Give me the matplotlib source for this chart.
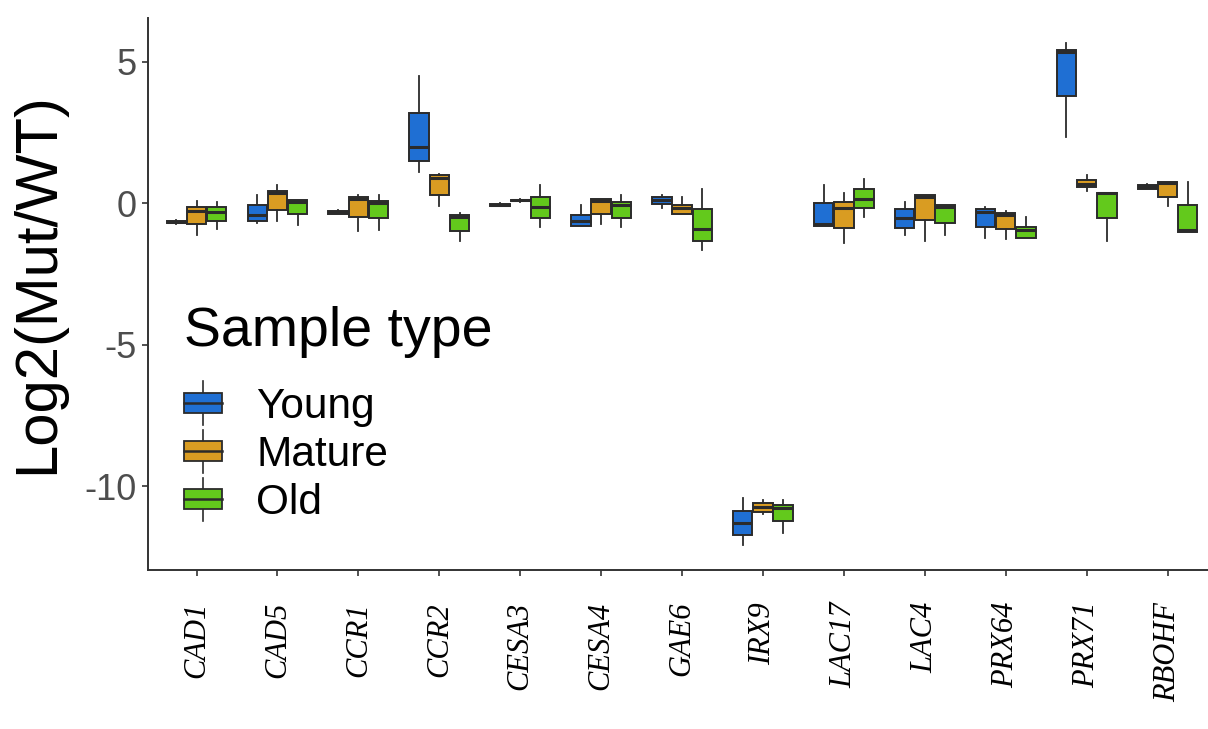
import numpy as np
import matplotlib
matplotlib.use("Agg")
import matplotlib.pyplot as plt
from matplotlib.legend_handler import HandlerBase
from matplotlib.patches import Rectangle, Patch
from matplotlib.lines import Line2D

genes = ["CAD1", "CAD5", "CCR1", "CCR2", "CESA3", "CESA4", "GAE6",
         "IRX9", "LAC17", "LAC4", "PRX64", "PRX71", "RBOHF"]
sample_types = ["Young", "Mature", "Old"]

# box stats: whisker low, q1, median, q3, whisker high
young_lo  = [-0.72, -0.68, -0.38, 1.10, -0.10, -0.80, -0.17, -12.07, -0.80, -1.12, -1.22, 2.34, 0.49]
young_q1  = [-0.70, -0.63, -0.36, 1.50, -0.08, -0.80, -0.03, -11.72, -0.80, -0.87, -0.84, 3.78, 0.52]
young_med = [-0.66, -0.42, -0.30, 1.99, -0.05, -0.63, 0.10, -11.30, -0.73, -0.52, -0.31, 5.35, 0.58]
young_q3  = [-0.62, -0.07, -0.26, 3.19, -0.02, -0.42, 0.21, -10.87, 0.02, -0.21, -0.21, 5.42, 0.65]
young_hi  = [-0.58, 0.28, -0.22, 4.50, 0.02, -0.07, 0.28, -10.41, 0.66, 0.03, -0.14, 5.66, 0.70]

mature_lo  = [-1.12, -0.63, -0.98, -0.10, 0.05, -0.73, -0.38, -10.98, -1.40, -1.33, -1.26, 0.45, -0.10]
mature_q1  = [-0.73, -0.24, -0.49, 0.31, 0.07, -0.38, -0.38, -10.91, -0.87, -0.59, -0.91, 0.56, 0.24]
mature_med = [-0.28, 0.35, 0.17, 0.91, 0.10, 0.07, -0.17, -10.73, -0.17, 0.21, -0.42, 0.70, 0.73]
mature_q3  = [-0.14, 0.42, 0.21, 1.01, 0.12, 0.14, -0.07, -10.59, 0.03, 0.28, -0.35, 0.84, 0.77]
mature_hi  = [0.07, 0.66, 0.28, 1.05, 0.15, 0.14, 0.21, -10.48, 0.35, 0.31, -0.28, 1.01, 0.77]

old_lo  = [-0.91, -0.77, -0.94, -1.33, -0.84, -0.84, -1.64, -11.65, -0.49, -1.12, -1.22, -1.33, -1.01]
old_q1  = [-0.63, -0.38, -0.52, -0.98, -0.52, -0.52, -1.33, -11.23, -0.17, -0.70, -1.22, -0.52, -1.01]
old_med = [-0.31, 0.05, 0.00, -0.49, -0.14, -0.07, -0.91, -10.77, 0.17, -0.14, -0.94, 0.35, -0.94]
old_q3  = [-0.14, 0.10, 0.07, -0.42, 0.21, 0.03, -0.21, -10.66, 0.49, -0.07, -0.84, 0.38, -0.07]
old_hi  = [0.03, 0.10, 0.28, -0.35, 0.66, 0.28, 0.52, -10.48, 0.87, -0.07, -0.49, 0.38, 0.77]

stats_by_type = {
    "Young": (young_lo, young_q1, young_med, young_q3, young_hi),
    "Mature": (mature_lo, mature_q1, mature_med, mature_q3, mature_hi),
    "Old": (old_lo, old_q1, old_med, old_q3, old_hi),
}

blue = "#1f6fd3"
gold = "#d99c22"
green = "#63c91c"
colors = [blue, gold, green]
edge = "#2b2b2b"


class BoxKey(HandlerBase):
    # little boxplot glyph for the legend
    def create_artists(self, legend, orig_handle, xdescent, ydescent,
                       width, height, fontsize, trans):
        x0, y0 = -xdescent, -ydescent
        xm = x0 + width / 2
        whisk = Line2D([xm, xm], [y0 - 0.35 * height, y0 + 1.35 * height],
                       color=edge, lw=1.2, transform=trans)
        box = Rectangle((x0, y0 + 0.1 * height), width, 0.8 * height,
                        facecolor=orig_handle.get_facecolor(), edgecolor=edge,
                        lw=1.3, transform=trans)
        med = Line2D([x0, x0 + width], [y0 + 0.5 * height] * 2,
                     color=edge, lw=1.8, transform=trans)
        return [whisk, box, med]


fig = plt.figure(figsize=(12.08, 7.29), dpi=100)
ax = fig.add_axes([148 / 1208, 1 - 570 / 729, 1 - 148 / 1208, (570 - 18) / 729])

x = np.arange(1, len(genes) + 1)
offsets = [-0.25, 0.0, 0.25]
for i, st in enumerate(sample_types):
    lo, q1, med, q3, hi = stats_by_type[st]
    bstats = [dict(whislo=lo[j], q1=q1[j], med=med[j], q3=q3[j], whishi=hi[j], fliers=[])
              for j in range(len(genes))]
    ax.bxp(bstats, positions=x + offsets[i], widths=0.24, patch_artist=True,
           showcaps=False, showfliers=False, manage_ticks=False,
           boxprops=dict(facecolor=colors[i], edgecolor=edge, linewidth=1.4),
           whiskerprops=dict(color=edge, linewidth=1.3),
           medianprops=dict(color=edge, linewidth=2.2))

ax.set_xlim(0.4, 13.5)
ax.set_ylim(-12.96, 6.55)
ax.set_yticks([5, 0, -5, -10])
ax.set_yticklabels(["5", "0", "-5", "-10"], fontsize=26, color="#4d4d4d",
                   fontfamily="Liberation Sans")
ax.set_xticks(x)
ax.set_xticklabels(genes, rotation=90, fontsize=22, fontstyle="italic",
                   fontfamily="Liberation Serif", color="black")
ax.tick_params(axis="x", length=4, width=1.2, color="#333333", pad=19)
ax.tick_params(axis="y", length=4, width=1.2, color="#333333", pad=4)

for side in ["top", "right"]:
    ax.spines[side].set_visible(False)
for side in ["left", "bottom"]:
    ax.spines[side].set_color("#333333")
    ax.spines[side].set_linewidth(1.4)

fig.text(38 / 1208, 1 - 283 / 729, "Log2(Mut/WT)", rotation=90, ha="center", va="center",
         fontsize=43, fontfamily="Liberation Sans")

handles = [Patch(facecolor=c) for c in colors]
leg = ax.legend(handles, sample_types, title="Sample type",
                handler_map={Patch: BoxKey()},
                loc="upper left", bbox_to_anchor=(184 / 1208, 1 - 306 / 729),
                bbox_transform=fig.transFigure, frameon=False,
                prop=dict(family="Liberation Sans", size=30.5),
                title_fontproperties=dict(family="Liberation Sans", size=40),
                handlelength=0.9, handleheight=0.55, handletextpad=0.8,
                labelspacing=0.19, borderpad=0, borderaxespad=0, alignment="left")
# more room between the legend title and the entries
leg._legend_box.sep = 21

fig.savefig("out.png", dpi=100)
